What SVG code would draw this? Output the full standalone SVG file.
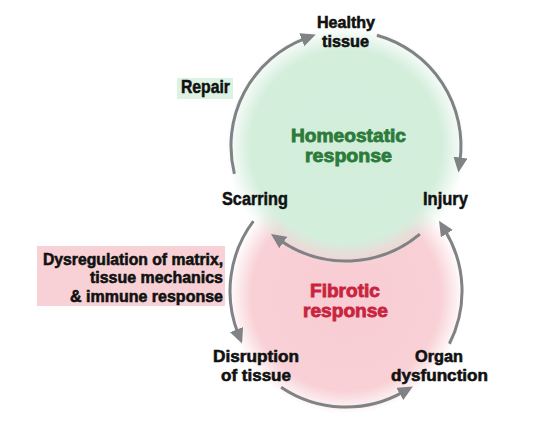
<svg xmlns="http://www.w3.org/2000/svg" width="556" height="439" viewBox="0 0 556 439">
<style>
.lbl{font-family:"Liberation Sans Narrow","Liberation Sans",Arial,sans-serif;font-weight:bold;font-size:18px;fill:#111111;stroke:#111111;stroke-width:0.5}
.two{font-size:16.8px;stroke-width:0.6}
.three{font-size:16.5px;stroke-width:0.6}
.big{font-family:"Liberation Sans Narrow","Liberation Sans",Arial,sans-serif;font-weight:bold;font-size:17.8px;stroke-width:0.8}
.g{fill:#2c7b3a;stroke:#2c7b3a}
.r{fill:#c9243f;stroke:#c9243f}
.arc{fill:none;stroke:#808285;stroke-width:3}
</style>
<defs>
<radialGradient id="gGreen">
<stop offset="0" stop-color="#d2eedb"/>
<stop offset="0.8" stop-color="#d4eedc"/>
<stop offset="1" stop-color="#d4eedc" stop-opacity="0"/>
</radialGradient>
<radialGradient id="gRed">
<stop offset="0" stop-color="#f8cdd3"/>
<stop offset="0.8" stop-color="#f8d0d5"/>
<stop offset="1" stop-color="#f8d0d5" stop-opacity="0"/>
</radialGradient>
<marker id="ah" markerUnits="userSpaceOnUse" markerWidth="16" markerHeight="15" refX="4" refY="7" orient="auto">
<path d="M0,0 L15,7 L0,14 z" fill="#808285"/>
</marker>
</defs>
<g id="fibrotic-zone">
<circle cx="346" cy="296" r="118" fill="url(#gRed)"/>
</g>
<g id="homeostatic-zone">
<circle cx="346" cy="146" r="120" fill="url(#gGreen)"/>
</g>
<g id="connectors">
<path class="arc" d="M234.4,173.8 A115,115 0 0 1 305.5,38.3" marker-end="url(#ah)"/>
<path class="arc" d="M376.9,35.2 A115,115 0 0 1 459.9,161.6" marker-end="url(#ah)"/>
<path class="arc" d="M419.9,234.1 A115,115 0 0 1 280.0,240.2" marker-end="url(#ah)"/>
<path class="arc" d="M253.4,221.2 A116,116 0 0 0 238.0,333.3" marker-end="url(#ah)"/>
<path class="arc" d="M281.1,387.2 A116,116 0 0 0 403.3,391.9" marker-end="url(#ah)"/>
<path class="arc" d="M449.4,343.7 A116,116 0 0 0 444.8,230.2" marker-end="url(#ah)"/>
</g>
<g id="healthy-tissue">
<text class="lbl two"><tspan x="317" y="27.5" textLength="58" lengthAdjust="spacingAndGlyphs">Healthy</tspan><tspan x="322" y="46.5" textLength="47" lengthAdjust="spacingAndGlyphs">tissue</tspan></text>
</g>
<g id="repair">
<rect x="177" y="78" width="56" height="21" fill="#dcf2e3"/>
<text class="lbl" x="181" y="93" textLength="49" lengthAdjust="spacingAndGlyphs">Repair</text>
</g>
<g id="homeostatic-response">
<text class="big g"><tspan x="291" y="142" textLength="115" lengthAdjust="spacingAndGlyphs">Homeostatic</tspan><tspan x="305" y="162" textLength="87" lengthAdjust="spacingAndGlyphs">response</tspan></text>
</g>
<g id="scarring">
<text class="lbl" x="222" y="205" textLength="66" lengthAdjust="spacingAndGlyphs">Scarring</text>
</g>
<g id="injury">
<text class="lbl" x="423" y="205" textLength="45" lengthAdjust="spacingAndGlyphs">Injury</text>
</g>
<g id="dysregulation">
<rect x="37" y="246" width="188" height="60" fill="#f8d1d6"/>
<text class="lbl three"><tspan x="43" y="264.5" textLength="180" lengthAdjust="spacingAndGlyphs">Dysregulation of matrix,</tspan><tspan x="90" y="283" textLength="133" lengthAdjust="spacingAndGlyphs">tissue mechanics</tspan><tspan x="70" y="301.5" textLength="153" lengthAdjust="spacingAndGlyphs">&amp; immune response</tspan></text>
</g>
<g id="fibrotic-response">
<text class="big r"><tspan x="310" y="297" textLength="70" lengthAdjust="spacingAndGlyphs">Fibrotic</tspan><tspan x="303" y="317" textLength="85" lengthAdjust="spacingAndGlyphs">response</tspan></text>
</g>
<g id="disruption">
<text class="lbl two"><tspan x="213" y="361.5" textLength="86" lengthAdjust="spacingAndGlyphs">Disruption</tspan><tspan x="221" y="380.5" textLength="70" lengthAdjust="spacingAndGlyphs">of tissue</tspan></text>
</g>
<g id="organ-dysfunction">
<text class="lbl two"><tspan x="415" y="361.5" textLength="48" lengthAdjust="spacingAndGlyphs">Organ</tspan><tspan x="391" y="380.5" textLength="97" lengthAdjust="spacingAndGlyphs">dysfunction</tspan></text>
</g>
</svg>
